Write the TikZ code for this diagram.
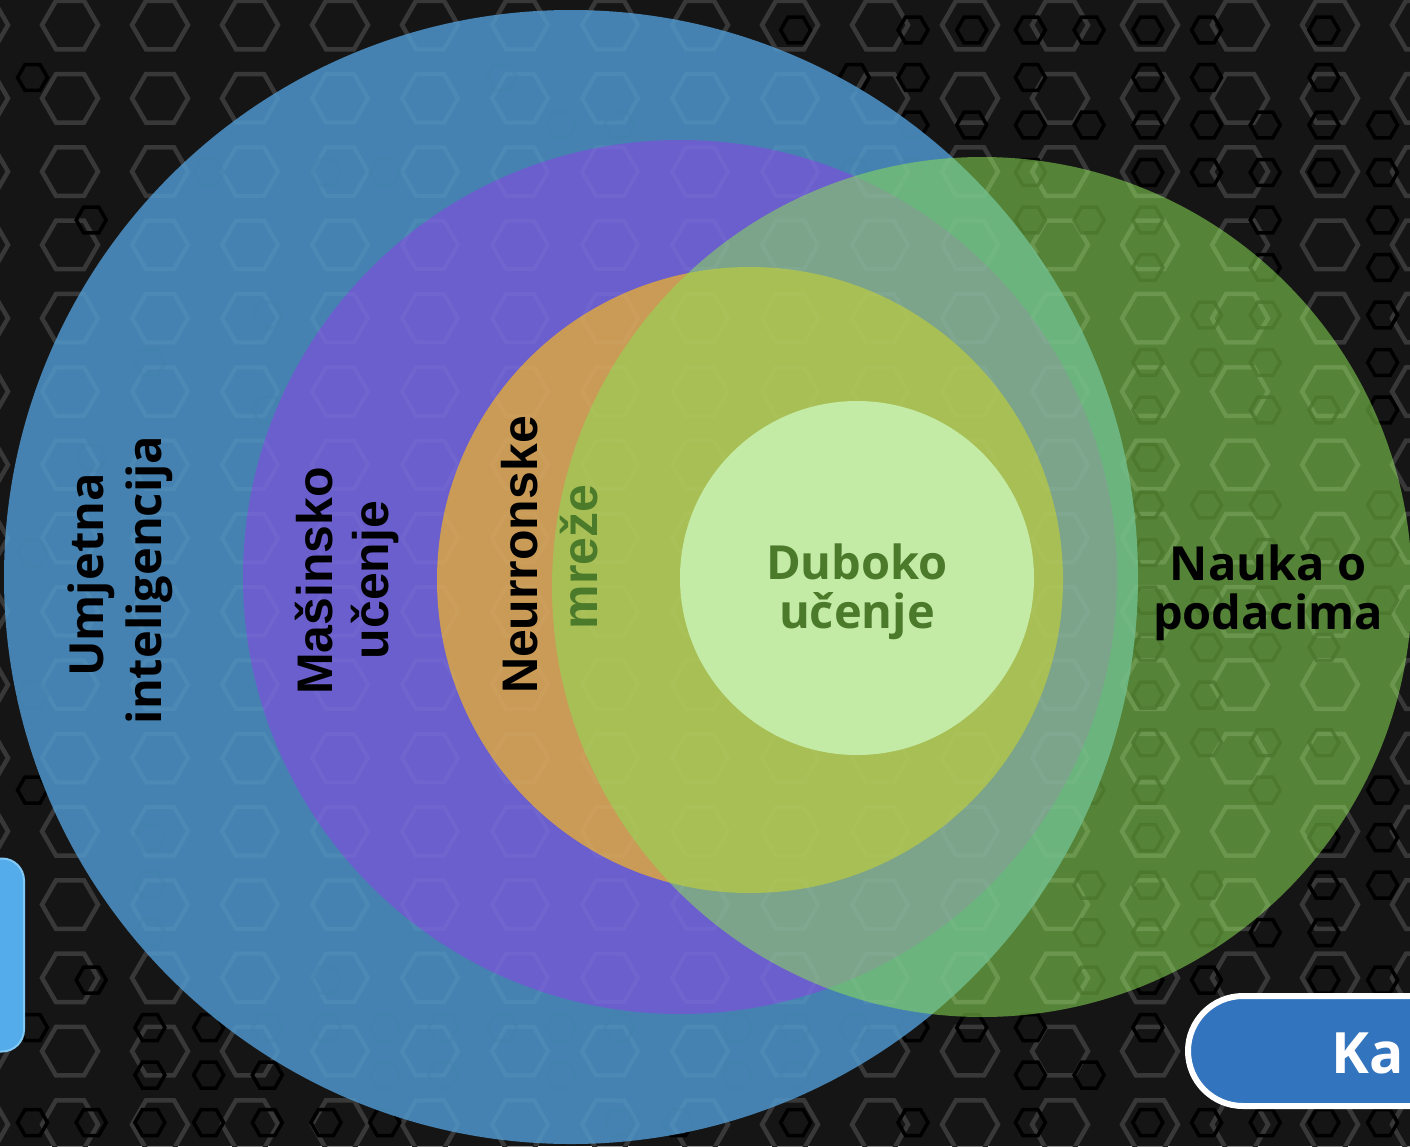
\documentclass[tikz,border=0pt]{standalone}
\usepackage{fontspec}
\newfontfamily\fos{Open Sans}
\newfontfamily\flib{Liberation Sans}
\definecolor{bgc}{RGB}{21,21,21}
\definecolor{hexgray}{RGB}{56,56,56}
\definecolor{aiblue}{RGB}{73,139,189}
\definecolor{mlpurple}{RGB}{107,95,206}
\definecolor{nnorange}{RGB}{202,155,86}
\definecolor{dsgreen}{RGB}{139,222,84}
\definecolor{dlgreen}{RGB}{196,235,166}
\definecolor{txtgreen}{RGB}{75,122,43}
\definecolor{kablue}{RGB}{50,116,189}
\definecolor{sideblue}{RGB}{84,172,234}
\definecolor{sidelight}{RGB}{130,200,245}
\tikzset{
  ghex/.pic={\draw[line width=4.5, draw=hexgray] (0:28) -- (60:28) -- (120:28) -- (180:28) -- (240:28) -- (300:28) -- cycle;},
  bhex/.pic={\draw[line width=3.5, draw=black] (0:15) -- (60:15) -- (120:15) -- (180:15) -- (240:15) -- (300:15) -- cycle;},
  whex/.pic={\draw[line width=4, draw=white, draw opacity=0.035] (0:28) -- (60:28) -- (120:28) -- (180:28) -- (240:28) -- (300:28) -- cycle;},
  disc/.style={circle, draw=none, inner sep=0, outer sep=0},
  lblA/.style={inner sep=0, anchor=base, font={\fos\bfseries\fontsize{47}{50}\selectfont}},
  lblB/.style={inner sep=0, anchor=base, font={\flib\bfseries\fontsize{50}{52}\selectfont}},
}
\begin{document}
\begin{tikzpicture}[x=1pt,y=-1pt]
\useasboundingbox (0,0) rectangle (1410,1146);
\begin{scope}
\clip (0,0) rectangle (1410,1146);
\fill[bgc] (0,0) rectangle (1410,1146);
% gray hexagon grid
\foreach \i in {-1,...,15}{
  \foreach \j in {0,...,15}{
    \pgfmathsetmacro{\hx}{70+90*\i}
    \pgfmathsetmacro{\hy}{25+73.3*\j}
    \path (\hx,\hy) pic {ghex};
  }
}
% small black hexagons
\pgfmathsetseed{4242}
\foreach \i in {-16,...,9}{
  \foreach \j in {0,...,24}{
    \pgfmathsetmacro{\hx}{913+58.7*\i}
    \pgfmathsetmacro{\hy}{30+47.5*\j}
    \pgfmathsetmacro{\pr}{(\hx>800 || \hy>980) ? 0.7 : 0.12}
    \pgfmathsetmacro{\dr}{rnd<\pr ? 1 : 0}
    \ifdim\dr pt>0.5pt \path (\hx,\hy) pic {bhex}; \fi
  }
}
% circles
\node[disc, fill=aiblue, fill opacity=0.93, minimum size=1134] (ai) at (571,577) {};
\node[disc, fill=mlpurple, minimum size=874] (ml) at (680,577) {};
\node[disc, fill=nnorange, minimum size=626] (nn) at (750,580) {};
\node[disc, fill=dsgreen, fill opacity=0.55, minimum size=860] (ds) at (982,587) {};
\begin{scope}
\clip (571,577) circle[radius=567] (982,587) circle[radius=430];
\foreach \i in {-1,...,15}{
  \foreach \j in {0,...,15}{
    \pgfmathsetmacro{\hx}{70+90*\i}
    \pgfmathsetmacro{\hy}{25+73.3*\j}
    \path (\hx,\hy) pic {whex};
  }
}
\end{scope}
\node[disc, fill=dlgreen, minimum size=354] (dl) at (857,578) {};
% labels
\node[lblA, rotate=90] (ai1) at (103,575) {Umjetna};
\node[lblA, rotate=90] (ai2) at (161,580) {inteligencija};
\node[lblB, rotate=90] (ml1) at (332,581) {Mašinsko};
\node[lblB, rotate=90] (ml2) at (388,580) {učenje};
\node[lblB, rotate=90] (nn1) at (537,555) {Neurronske};
\node[lblB, rotate=90, text=txtgreen] (nn2) at (597,557) {mreže};
\node[lblA, text=txtgreen] (dl1) at (857,579) {Duboko};
\node[lblA, text=txtgreen] (dl2) at (857,628) {učenje};
\node[lblA] (ds1) at (1268,580) {Nauka o};
\node[lblA] (ds2) at (1268,629) {podacima};
% side widget and button
\node[fill=sideblue, draw=sidelight, line width=2, rounded corners=22, minimum width=90, minimum height=193, anchor=east, inner sep=0] (side) at (25,955) {};
\node[fill=kablue, draw=white, line width=6, rounded corners=55, minimum width=320, minimum height=110, anchor=west, inner sep=0] (kabtn) at (1185,1051) {};
\node[inner sep=0, anchor=base west, text=white, font={\fos\bfseries\fontsize{57}{60}\selectfont}] (katxt) at (1331,1073) {Ka};
\end{scope}
\end{tikzpicture}
\end{document}
